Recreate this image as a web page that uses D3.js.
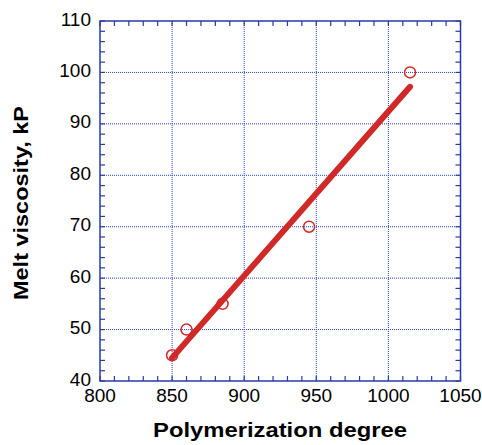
<!DOCTYPE html>
<html>
<head>
<meta charset="utf-8">
<script src="https://cdn.jsdelivr.net/npm/d3@7"></script>
<style>
  html, body { margin: 0; padding: 0; background: #fff; }
  svg { display: block; }
</style>
</head>
<body>
<svg id="chart" width="482" height="445"></svg>
<script>
// Measured points: polymerization degree vs melt viscosity (kP)
const degree = [850, 860, 885, 945, 1015];
const viscosity = [45, 50, 55, 70, 100];

// Linear fit drawn across the measured range
const fitDegree = [850, 1015];
const fitViscosity = [44.5, 97.2];

// Axis ticks
const xTicks = [800, 850, 900, 950, 1000, 1050];
const yTicks = [40, 50, 60, 70, 80, 90, 100, 110];
const xMinor = d3.range(800, 1051, 10);
const yMinor = d3.range(40, 111, 2);

const svg = d3.select("#chart");
const plotLeft = 100, plotRight = 460.5, plotTop = 21, plotBottom = 381;

const x = d3.scaleLinear().domain([800, 1050]).range([plotLeft, plotRight]);
const y = d3.scaleLinear().domain([40, 110]).range([plotBottom, plotTop]);

const gridColor = "#2a3fd0";
const frameColor = "#2a3aa8";
const red = "#d12828";

// Dotted grid at major ticks
const grid = svg.append("g");
grid.selectAll("line.gx").data(xTicks.slice(1, -1)).join("line")
  .attr("x1", d => x(d)).attr("x2", d => x(d))
  .attr("y1", plotTop).attr("y2", plotBottom)
  .attr("stroke", gridColor).attr("stroke-width", 1)
  .attr("stroke-dasharray", "1,1");
grid.selectAll("line.gy").data(yTicks.slice(1, -1)).join("line")
  .attr("y1", d => y(d)).attr("y2", d => y(d))
  .attr("x1", plotLeft).attr("x2", plotRight)
  .attr("stroke", gridColor).attr("stroke-width", 1)
  .attr("stroke-dasharray", "1,1");

// Inward ticks on all four sides
const tickLen = 5;
const ticks = svg.append("g").attr("stroke", frameColor).attr("stroke-width", 1.2);
xMinor.forEach(v => {
  ticks.append("line").attr("x1", x(v)).attr("x2", x(v)).attr("y1", plotBottom).attr("y2", plotBottom - tickLen);
  ticks.append("line").attr("x1", x(v)).attr("x2", x(v)).attr("y1", plotTop).attr("y2", plotTop + tickLen);
});
yMinor.forEach(v => {
  ticks.append("line").attr("y1", y(v)).attr("y2", y(v)).attr("x1", plotLeft).attr("x2", plotLeft + tickLen);
  ticks.append("line").attr("y1", y(v)).attr("y2", y(v)).attr("x1", plotRight).attr("x2", plotRight - tickLen);
});

// Frame
svg.append("rect")
  .attr("x", plotLeft).attr("y", plotTop)
  .attr("width", plotRight - plotLeft).attr("height", plotBottom - plotTop)
  .attr("fill", "none").attr("stroke", frameColor).attr("stroke-width", 1.5);

// Tick labels
const font = "Liberation Sans, Arial, sans-serif";
svg.append("g").selectAll("text").data(xTicks).join("text")
  .attr("x", d => x(d)).attr("y", plotBottom + 20.5)
  .attr("text-anchor", "middle")
  .attr("font-family", font).attr("font-size", 19)
  .text(d => d);
svg.append("g").selectAll("text").data(yTicks).join("text")
  .attr("x", plotLeft - 9).attr("y", d => y(d) + 4.5)
  .attr("text-anchor", "end")
  .attr("font-family", font).attr("font-size", 19)
  .text(d => d);

// Axis titles
svg.append("text")
  .attr("x", 280).attr("y", 437)
  .attr("text-anchor", "middle")
  .attr("font-family", font).attr("font-size", 21).attr("font-weight", "bold")
  .attr("textLength", 254).attr("lengthAdjust", "spacingAndGlyphs")
  .text("Polymerization degree");
svg.append("text")
  .attr("transform", "translate(28,203) rotate(-90)")
  .attr("text-anchor", "middle")
  .attr("font-family", font).attr("font-size", 21).attr("font-weight", "bold")
  .attr("textLength", 194).attr("lengthAdjust", "spacingAndGlyphs")
  .text("Melt viscosity, kP");

// Fit line
svg.append("line")
  .attr("x1", x(fitDegree[0])).attr("y1", y(fitViscosity[0]))
  .attr("x2", x(fitDegree[1])).attr("y2", y(fitViscosity[1]))
  .attr("stroke", red).attr("stroke-width", 6).attr("stroke-linecap", "round");

// Data markers
svg.append("g").selectAll("circle").data(degree).join("circle")
  .attr("cx", d => x(d)).attr("cy", (d, i) => y(viscosity[i]))
  .attr("r", 5.5)
  .attr("fill", "none").attr("stroke", red).attr("stroke-width", 1.5);
</script>
</body>
</html>
